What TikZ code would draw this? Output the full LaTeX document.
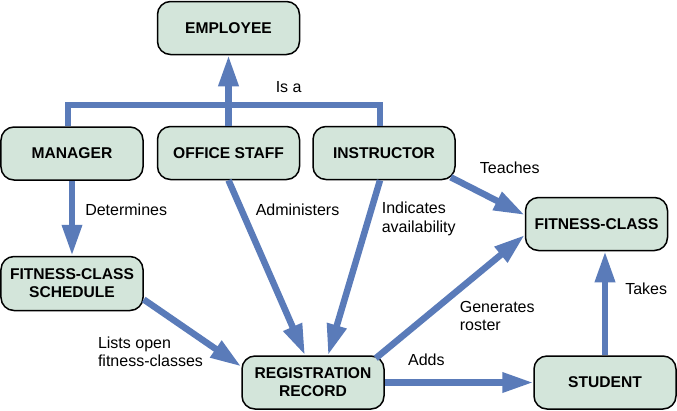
\documentclass[tikz,border=0pt]{standalone}
\usepackage{fontspec}
\setmainfont{Liberation Sans}
\usepackage{tikz}
\usetikzlibrary{arrows.meta}
\definecolor{linkblue}{RGB}{90,123,185}
\definecolor{boxgreen}{RGB}{211,229,218}

\begin{document}
\begin{tikzpicture}[x=1bp, y=-1bp,
    entity/.style={shape=rectangle, rounded corners=13bp, draw=black, line width=1.5bp, fill=boxgreen,
        minimum width=142bp, minimum height=53bp, align=center, inner sep=1bp,
        font=\fontsize{15.6bp}{18bp}\selectfont\bfseries},
    link/.style={draw=linkblue, line width=6.5bp},
    rel/.style={link, -{Triangle[length=31bp, width=19bp]}},
    lbl/.style={font=\fontsize{16bp}{18.5bp}\selectfont, align=left, inner sep=2bp, text=black}]

                \useasboundingbox (0,0) rectangle (677,410);

                \node[entity] (employee) at (228.5,28) {EMPLOYEE};
                \node[entity] (manager) at (72,153.5) {MANAGER};
                \node[entity] (staff) at (228.5,153) {OFFICE STAFF};
                \node[entity] (instructor) at (384,153) {INSTRUCTOR};
                \node[entity, minimum height=54bp] (schedule) at (72,283.5) {FITNESS-CLASS\\SCHEDULE};
                \node[entity] (fclass) at (596.5,224) {FITNESS-CLASS};
                \node[entity] (record) at (313,382.5) {REGISTRATION\\RECORD};
                \node[entity] (student) at (605,382.5) {STUDENT};

                \coordinate (isa) at (228.5,105);
                \draw[link] ([xshift=-4bp]manager.north) |- (isa) -| ([xshift=-4bp]instructor.north);
                \draw[rel] (staff) -- (employee) node[lbl, pos=0.555, right=42bp] {Is a};

                \draw[rel] (manager) -- (schedule) node[lbl, pos=0.39, right=8bp] {Determines};
                \draw[rel] (staff.south) -- ([xshift=-8bp]record.north) node[lbl, pos=0.17, right=9bp] {Administers};
                \draw[rel] ([xshift=-4bp]instructor.south) -- ([xshift=15bp]record.north) node[lbl, pos=0.22, right=8bp] {Indicates\\availability};
                \draw[rel] ([xshift=-5bp,yshift=3bp]instructor.south east) -- ([yshift=9bp]fclass.west) node[lbl, pos=0.5, xshift=22bp, yshift=28bp] {Teaches};
                \draw[rel] ([yshift=-16bp]schedule.east) -- ([yshift=16bp]record.west) node[lbl, pos=0.5, xshift=-42bp, yshift=-18.7bp] {Lists open\\fitness-classes};
                \draw[rel] ([xshift=-9bp,yshift=-3bp]record.north east) -- ([yshift=-11bp]fclass.west) node[lbl, pos=0.5, xshift=47bp, yshift=-19.5bp] {Generates\\roster};
                \draw[rel] (record.east) -- (student.west) node[lbl, pos=0.28, above=12bp] {Adds};
                \draw[rel] (student.north) -- (student.north |- fclass.south) node[lbl, pos=0.64, right=15bp] {Takes};

            \end{tikzpicture}
\end{document}
